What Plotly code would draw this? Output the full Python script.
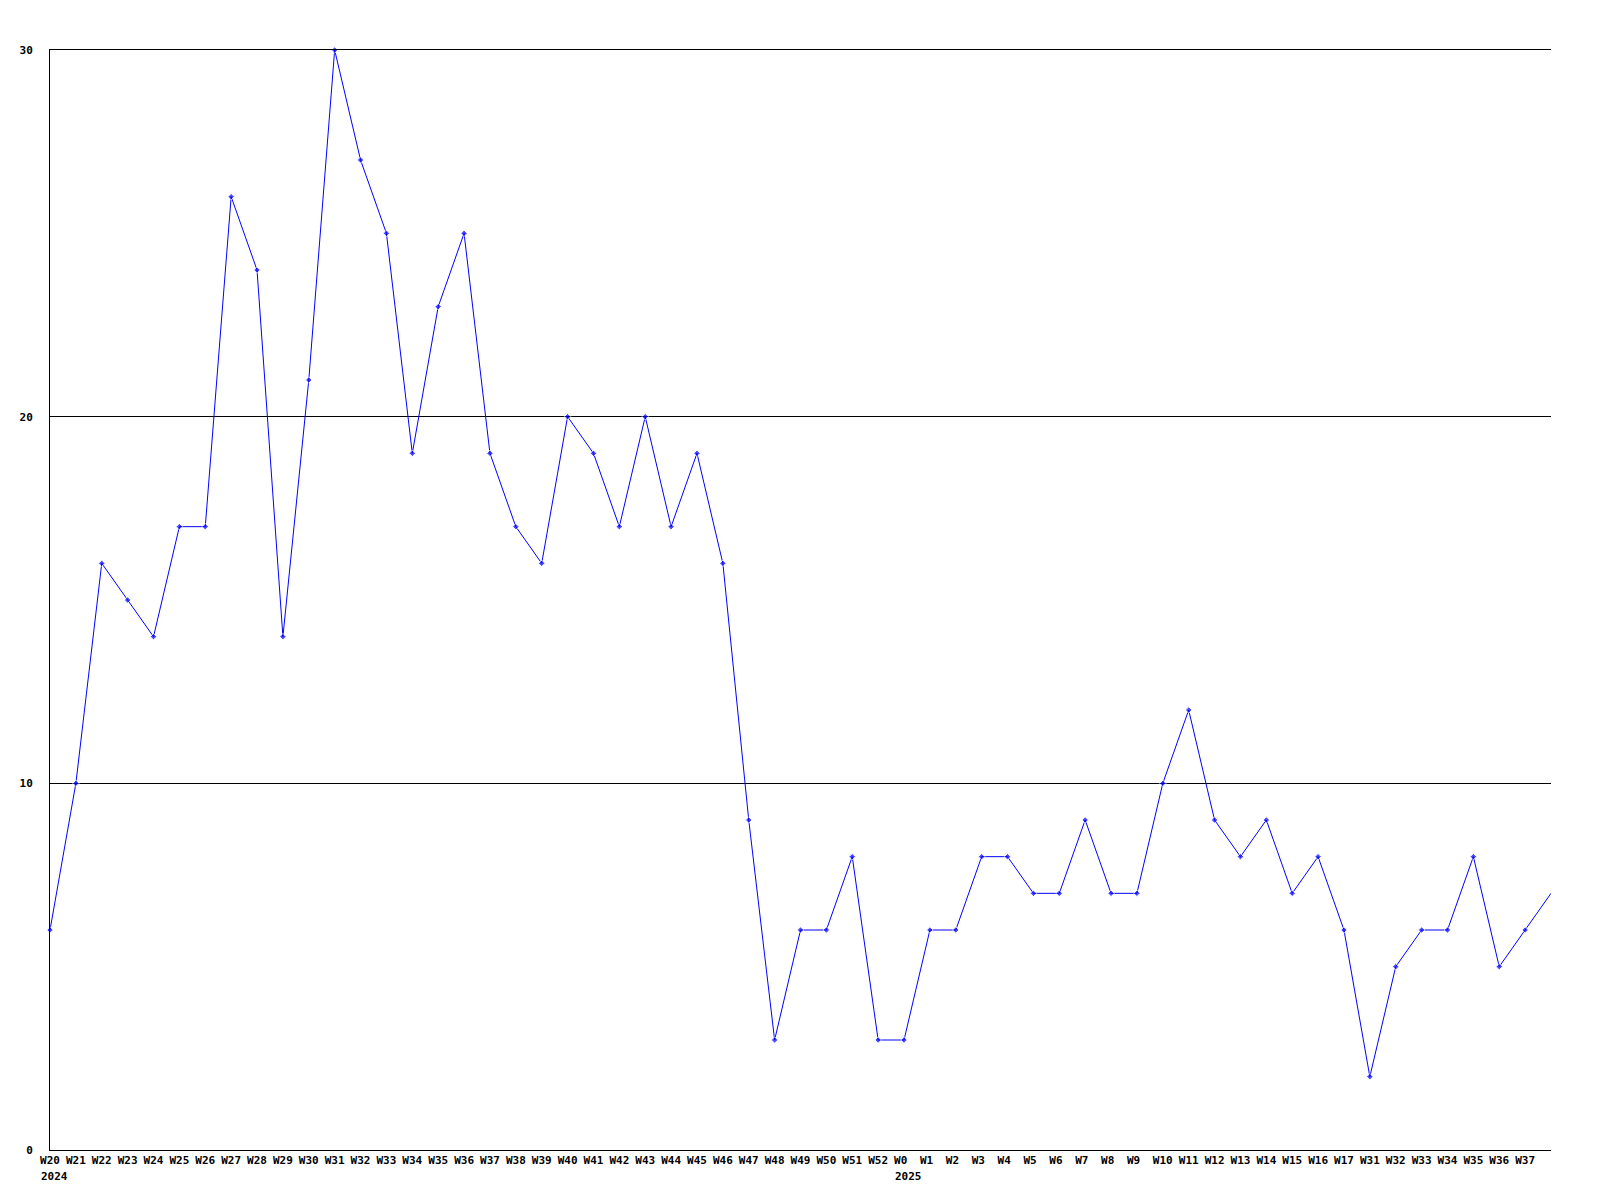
import plotly.graph_objects as go

weeks = ["W20","W21","W22","W23","W24","W25","W26","W27","W28","W29","W30","W31","W32","W33",
         "W34","W35","W36","W37","W38","W39","W40","W41","W42","W43","W44","W45","W46","W47",
         "W48","W49","W50","W51","W52","W0","W1","W2","W3","W4","W5","W6","W7","W8","W9",
         "W10","W11","W12","W13","W14","W15","W16","W17","W31 ","W32 ","W33 ","W34 ","W35 ",
         "W36 ","W37 ","W38 "]
tick_labels = ["W20","W21","W22","W23","W24","W25","W26","W27","W28","W29","W30","W31","W32","W33",
               "W34","W35","W36","W37","W38","W39","W40","W41","W42","W43","W44","W45","W46","W47",
               "W48","W49","W50","W51","W52","W0","W1","W2","W3","W4","W5","W6","W7","W8","W9",
               "W10","W11","W12","W13","W14","W15","W16","W17","W31","W32","W33","W34","W35",
               "W36","W37",""]
values = [6,10,16,15,14,17,17,26,24,14,21,30,27,25,
          19,23,25,19,17,16,20,19,17,20,17,19,16,9,
          3,6,6,8,3,3,6,6,8,8,7,7,9,7,7,
          10,12,9,8,9,7,8,6,2,5,6,6,8,
          5,6,7]
year_labels = [("W20", "2024"), ("W0", "2025")]

FONT = "DejaVu Sans Mono"

# left-justify labels: pad short labels to 3 chars with non-breaking spaces
padded_labels = [t + "\u00a0" * (3 - len(t)) if t else t for t in tick_labels]
marker_sizes = [5] * (len(values) - 1) + [0]

fig = go.Figure()
fig.add_trace(go.Scatter(
    x=weeks, y=values, mode="lines+markers",
    line=dict(color="#0000ff", width=1),
    marker=dict(symbol="diamond", size=marker_sizes, color="#0000ff"),
    cliponaxis=False, showlegend=False,
))

for cat, yr in year_labels:
    fig.add_annotation(
        x=cat, y=0, xref="x", yref="paper", text=yr, showarrow=False,
        xanchor="left", yanchor="middle", yshift=-26,
        xshift=-3 * 6.7 / 2 - 1,
        font=dict(family=FONT, size=11, color="black", weight="bold"),
    )

fig.update_layout(
    width=1584, height=1184,
    margin=dict(l=42, r=41, t=42, b=42),
    paper_bgcolor="white", plot_bgcolor="white",
    font=dict(family=FONT, size=11, color="black"),
)
fig.update_xaxes(
    type="category", categoryorder="array", categoryarray=weeks,
    tickmode="array", tickvals=weeks, ticktext=padded_labels,
    range=[0, len(weeks) - 1], showgrid=False, zeroline=False,
    showline=True, mirror=True, linecolor="black", linewidth=1,
    ticks="", tickangle=0,
    tickfont=dict(family=FONT, size=11, color="black", weight="bold"),
)
fig.update_yaxes(
    range=[0, 30], tickvals=[0, 10, 20, 30], showgrid=True, gridcolor="black", gridwidth=1,
    zeroline=False, showline=True, linecolor="black", linewidth=1,
    ticks="", ticklabelstandoff=14,
    tickfont=dict(family=FONT, size=11, color="black", weight="bold"),
)

fig.write_html("out.html")
